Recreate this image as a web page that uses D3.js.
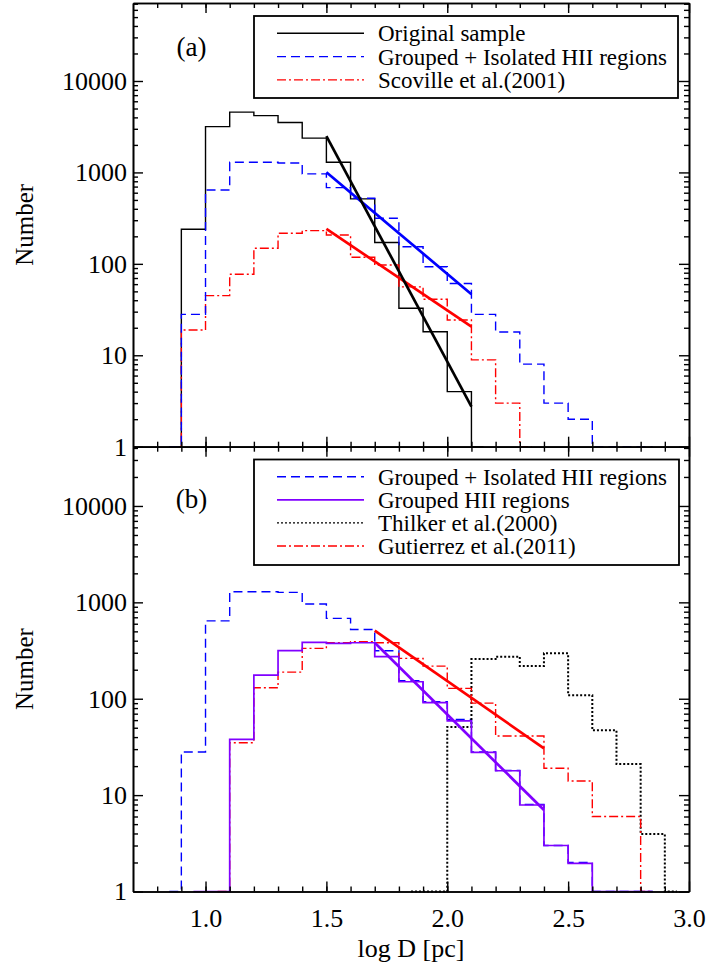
<!DOCTYPE html>
<meta charset="utf-8">

<!-- Load d3.js -->
<script src="https://d3js.org/d3.v7.min.js"></script>

<style>
body { margin: 0; background: #fff; }
svg text { font-family: "Liberation Serif", "Times New Roman", serif; fill: #000; }
</style>

<div id="my_dataviz"></div>

<script>
// ---- values ----
// histograms: centre of first bin + counts per 0.1 dex bin (empty bins sit at 1)
var binWidth = 0.1;

// panel (a)
var originalStart = 0.85;
var originalCounts = [1, 239, 3170, 4560, 4180, 3510, 2370, 1290, 513, 171, 32.7, 18.1, 4.0, 1];
var groupedIsoStart = 0.85;
var groupedIsoCounts = [1, 28, 643, 1290, 1290, 1270, 963, 682, 522, 315, 154, 93, 61, 28, 18, 8, 3, 2, 1, 1, 1];
var scovilleStart = 0.85;
var scovilleCounts = [1, 18.9, 44.9, 77, 148, 216, 231, 207, 118, 97, 56, 41, 24.3, 8.9, 3.0, 1];

// panel (b)
var groupedStart = 0.95;
var groupedCounts = [1, 1, 37.9, 176, 315, 385, 376, 381, 273, 150, 91, 59, 27.8, 17.9, 7.9, 3.0, 1.96, 1, 1, 1];
var thilkerStart = 1.85;
var thilkerCounts = [1, 1, 51, 258, 273, 218, 296, 109, 47, 21, 3.95, 1];
var gutierrezStart = 1.05;
var gutierrezCounts = [1, 35, 130, 189, 333, 381, 390, 381, 262, 218, 128, 90, 41, 41, 19, 14, 6, 6, 1];

// power-law fits, end points [log D, N]
var fitOriginal = [[1.5, 2500], [2.1, 2.74]];
var fitGroupedIso = [[1.5, 1005], [2.1, 46.5]];
var fitScoville = [[1.5, 241], [2.1, 20.6]];
var fitGutierrez = [[1.7, 508], [2.4, 30.6]];
var fitGrouped = [[1.7, 381], [2.4, 7.0]];

// ticks and labels
var xMajorTicks = [1.0, 1.5, 2.0, 2.5, 3.0];
var xTickLabels = ["1.0", "1.5", "2.0", "2.5", "3.0"];
var yMajorTicks = [1, 10, 100, 1000, 10000];
var yTickLabels = ["1", "10", "100", "1000", "10000"];
var legendA = ["Original sample", "Grouped + Isolated HII regions", "Scoville et al.(2001)"];
var legendB = ["Grouped + Isolated HII regions", "Grouped HII regions", "Thilker et al.(2000)", "Gutierrez et al.(2011)"];

// ---- styles ----
var sty = {
  original:   {color: "#000000", dash: null,        w: 1.4},
  groupedIso: {color: "#0000ff", dash: "9,5",       w: 1.4},
  scoville:   {color: "#ff0000", dash: "9,3,2,3",   w: 1.4},
  grouped:    {color: "#8000ff", dash: null,        w: 1.7},
  thilker:    {color: "#000000", dash: "2,2",       w: 2},
  gutierrez:  {color: "#ff0000", dash: "9,3,2,3",   w: 1.4}
};

var width = 709, height = 969;
var left = 133, right = 689;

var svg = d3.select("#my_dataviz")
  .append("svg")
  .attr("width", width)
  .attr("height", height);

var x = d3.scaleLinear().domain([0.7, 3.0]).range([left, right]);

var panels = [
  {
    top: 3, bottom: 446.7, ymax: 71300, tag: "(a)", tagY: 47,
    hists: [
      {start: originalStart, counts: originalCounts, s: sty.original},
      {start: scovilleStart, counts: scovilleCounts, s: sty.scoville},
      {start: groupedIsoStart, counts: groupedIsoCounts, s: sty.groupedIso}
    ],
    fits: [
      {pts: fitGroupedIso, color: sty.groupedIso.color},
      {pts: fitScoville, color: sty.scoville.color},
      {pts: fitOriginal, color: sty.original.color}
    ],
    legend: legendA, legendStyles: [sty.original, sty.groupedIso, sty.scoville],
    box: {x0: 254, x1: 678, y0: 16, y1: 98}, row0: 33.3, rowStep: 23.3,
    xLabels: false
  },
  {
    top: 446.7, bottom: 891.5, ymax: 41200, tag: "(b)", tagY: 499,
    hists: [
      {start: groupedIsoStart, counts: groupedIsoCounts, s: sty.groupedIso},
      {start: thilkerStart, counts: thilkerCounts, s: sty.thilker},
      {start: gutierrezStart, counts: gutierrezCounts, s: sty.gutierrez},
      {start: groupedStart, counts: groupedCounts, s: sty.grouped}
    ],
    fits: [
      {pts: fitGutierrez, color: sty.gutierrez.color},
      {pts: fitGrouped, color: sty.grouped.color}
    ],
    legend: legendB, legendStyles: [sty.groupedIso, sty.grouped, sty.thilker, sty.gutierrez],
    box: {x0: 254, x1: 679, y0: 459.5, y1: 565}, row0: 476.7, rowStep: 23.1,
    xLabels: true
  }
];

// IDL psym=10 style step outline: half-width first/last steps
function stepPoints(start, counts) {
  var pts = [];
  var c = function(i) { return start + binWidth * i; };
  pts.push([c(0), counts[0]]);
  for (var i = 1; i < counts.length; i++) {
    var m = (c(i - 1) + c(i)) / 2;
    pts.push([m, counts[i - 1]]);
    pts.push([m, counts[i]]);
  }
  pts.push([c(counts.length - 1), counts[counts.length - 1]]);
  return pts;
}

var xMinor = d3.range(8, 30).map(function(v) { return v / 10; });

panels.forEach(function(p) {
  var y = d3.scaleLog().domain([1, p.ymax]).range([p.bottom, p.top]);

  var yMinor = [];
  [1, 10, 100, 1000, 10000].forEach(function(dec) {
    for (var k = 2; k <= 9; k++) if (dec * k <= p.ymax) yMinor.push(dec * k);
  });

  var g = svg.append("g");

  // histograms
  var line = d3.line()
    .x(function(d) { return x(d[0]); })
    .y(function(d) { return y(d[1]); });

  p.hists.forEach(function(h) {
    g.append("path")
      .datum(stepPoints(h.start, h.counts))
      .attr("fill", "none")
      .attr("stroke", h.s.color)
      .attr("stroke-width", h.s.w)
      .attr("stroke-dasharray", h.s.dash)
      .attr("d", line);
  });

  // fits
  p.fits.forEach(function(f) {
    g.append("path")
      .datum(f.pts)
      .attr("fill", "none")
      .attr("stroke", f.color)
      .attr("stroke-width", 2.7)
      .attr("d", line);
  });

  // axes, all ticks pointing inwards
  function styleAxis(sel) {
    sel.selectAll("path.domain").attr("stroke", "#000").attr("stroke-width", 1.6);
    sel.selectAll(".tick line").attr("stroke", "#000").attr("stroke-width", 1.4);
    sel.attr("font-family", null).attr("font-size", null);
  }

  // left
  g.append("g").attr("transform", "translate(" + left + ",0)")
    .call(d3.axisLeft(y).tickValues(yMinor).tickSize(-5).tickSizeOuter(0).tickFormat(""))
    .call(styleAxis);
  g.append("g").attr("transform", "translate(" + left + ",0)")
    .call(d3.axisLeft(y).tickValues(yMajorTicks).tickSize(-10).tickSizeOuter(0).tickPadding(6)
      .tickFormat(function(d, i) { return yTickLabels[i]; }))
    .call(styleAxis)
    .selectAll("text").style("font-size", "26px");

  // right
  g.append("g").attr("transform", "translate(" + right + ",0)")
    .call(d3.axisRight(y).tickValues(yMinor).tickSize(-5).tickSizeOuter(0).tickFormat(""))
    .call(styleAxis);
  g.append("g").attr("transform", "translate(" + right + ",0)")
    .call(d3.axisRight(y).tickValues(yMajorTicks).tickSize(-10).tickSizeOuter(0).tickFormat(""))
    .call(styleAxis);

  // top and bottom
  [[d3.axisTop, p.top], [d3.axisBottom, p.bottom]].forEach(function(a) {
    g.append("g").attr("transform", "translate(0," + a[1] + ")")
      .call(a[0](x).tickValues(xMinor).tickSize(-5).tickSizeOuter(0).tickFormat(""))
      .call(styleAxis);
    var major = g.append("g").attr("transform", "translate(0," + a[1] + ")")
      .call(a[0](x).tickValues(xMajorTicks).tickSize(-10).tickSizeOuter(0).tickPadding(17)
        .tickFormat(function(d, i) {
          return (p.xLabels && a[0] === d3.axisBottom) ? xTickLabels[i] : "";
        }))
      .call(styleAxis);
    major.selectAll("text").style("font-size", "26px");
  });

  // y label
  svg.append("text")
    .attr("transform", "translate(33," + ((p.top + p.bottom) / 2) + ") rotate(-90)")
    .attr("text-anchor", "middle")
    .style("font-size", "25px")
    .text("Number");

  // panel tag
  svg.append("text")
    .attr("x", 191.5)
    .attr("y", p.tagY)
    .attr("dy", "0.35em")
    .attr("text-anchor", "middle")
    .style("font-size", "27px")
    .text(p.tag);

  // legend
  var lg = svg.append("g");
  lg.append("rect")
    .attr("x", p.box.x0).attr("y", p.box.y0)
    .attr("width", p.box.x1 - p.box.x0).attr("height", p.box.y1 - p.box.y0)
    .attr("fill", "#fff")
    .attr("stroke", "#000")
    .attr("stroke-width", 1.8);
  p.legend.forEach(function(t, i) {
    var ry = p.row0 + i * p.rowStep;
    var s = p.legendStyles[i];
    lg.append("line")
      .attr("x1", 277).attr("x2", 364)
      .attr("y1", ry).attr("y2", ry)
      .attr("stroke", s.color)
      .attr("stroke-width", s === sty.thilker ? 1.4 : s.w)
      .attr("stroke-dasharray", s.dash);
    lg.append("text")
      .attr("x", 378)
      .attr("y", ry)
      .attr("dy", "0.35em")
      .style("font-size", "23px")
      .text(t);
  });
});

// x-axis title
svg.append("text")
  .attr("x", (left + right) / 2)
  .attr("y", 957)
  .attr("text-anchor", "middle")
  .style("font-size", "26px")
  .text("log D [pc]");
</script>
